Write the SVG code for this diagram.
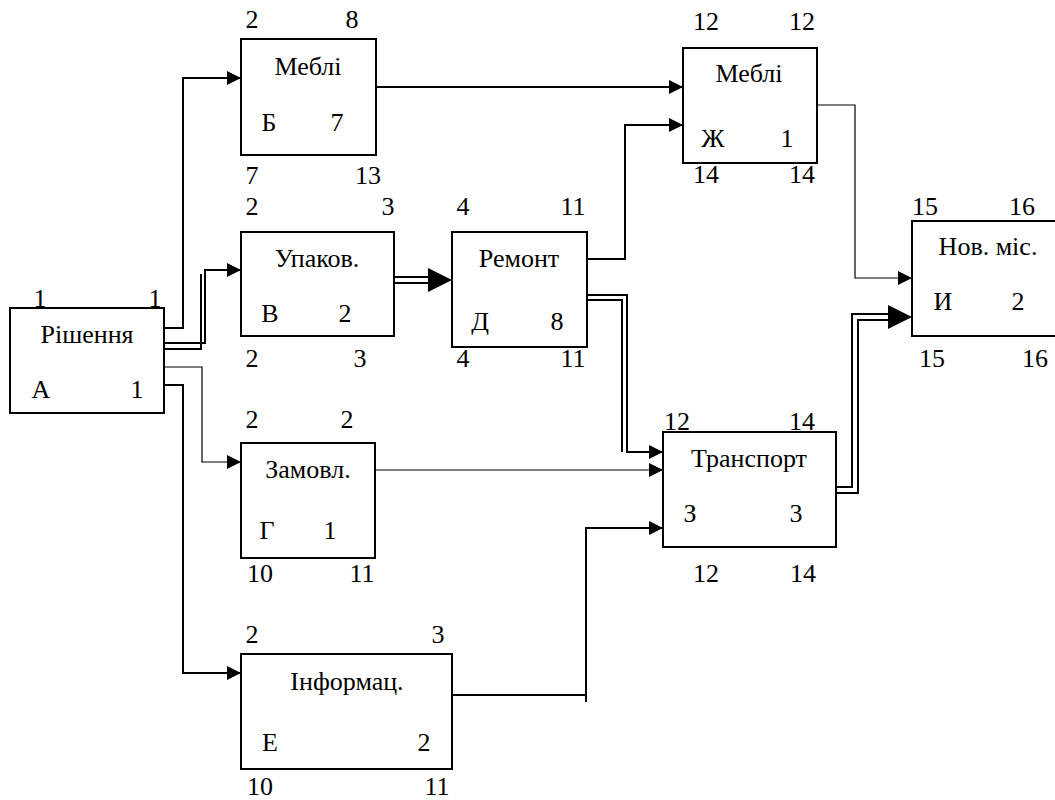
<svg xmlns="http://www.w3.org/2000/svg" xmlns:xlink="http://www.w3.org/1999/xlink" width="1055" height="800" viewBox="0 0 1055 800">
  <style>
    .box { fill: #ffffff; stroke: #000000; stroke-width: 2; }
    .t { font-family: "Liberation Serif", "Times New Roman", Tinos, "Nimbus Roman", FreeSerif, "DejaVu Serif", serif; font-size: 26px; fill: #000000; text-anchor: middle; }
    .ln { fill: none; stroke: #000000; stroke-width: 2; }
    .thin { fill: none; stroke: #000000; stroke-width: 1.2; }
  </style>
  <defs>
    <marker id="arr" viewBox="0 0 14 14" refX="14" refY="7" markerWidth="14" markerHeight="14" markerUnits="userSpaceOnUse" orient="auto">
      <path d="M0,0 L14,7 L0,14 Z" fill="#000000"/>
    </marker>
    <path id="bigArrow" d="M0,0 L-24,-12 L-24,12 Z" fill="#000000"/>
  </defs>

  <rect width="1055" height="800" fill="#ffffff"/>

  <!-- connectors -->
  <g id="connectors">
    <!-- А -> Б -->
    <path class="ln" d="M164,328 H183 V78 H241" marker-end="url(#arr)"/>
    <!-- А -> В (double) -->
    <path class="ln" d="M164,343 H205 V270 H241" marker-end="url(#arr)"/>
    <path class="ln" d="M164,349 H201 V274"/>
    <!-- А -> Г -->
    <path class="thin" d="M164,367 H202 V462 H241" marker-end="url(#arr)"/>
    <!-- А -> Е -->
    <path class="ln" d="M164,385 H183 V673 H241" marker-end="url(#arr)"/>
    <!-- Б -> Ж -->
    <path class="ln" d="M376,87 H683" marker-end="url(#arr)"/>
    <!-- Д -> Ж -->
    <path class="ln" d="M587,259 H625 V125 H683" marker-end="url(#arr)"/>
    <!-- В -> Д (double) -->
    <path class="ln" d="M394,277 H430"/>
    <path class="ln" d="M394,283 H430"/>
    <use xlink:href="#bigArrow" x="452" y="280"/>
    <!-- Д -> З (double) -->
    <path class="ln" d="M587,295 H627 V452 H663" marker-end="url(#arr)"/>
    <path class="ln" d="M587,300 H622 V452"/>
    <!-- Г -> З -->
    <path class="thin" d="M375,470 H663" marker-end="url(#arr)"/>
    <!-- Е -> З -->
    <path class="ln" d="M452,695 H586"/>
    <path class="ln" d="M586,702 V528 H663" marker-end="url(#arr)"/>
    <!-- Ж -> И -->
    <path class="thin" d="M817,105 H855 V278 H912" marker-end="url(#arr)"/>
    <!-- З -> И (double) -->
    <path class="ln" d="M836,487 H852 V314 H890"/>
    <path class="ln" d="M836,493 H858 V320 H890"/>
    <use xlink:href="#bigArrow" x="912" y="317"/>
  </g>

  <!-- А: Рішення -->
  <g id="node-a">
    <rect class="box" x="10" y="308" width="154" height="105"/>
    <text class="t" x="40" y="307">1</text>
    <text class="t" x="155" y="307">1</text>
    <text class="t" x="87" y="343">Рішення</text>
    <text class="t" x="41" y="398">А</text>
    <text class="t" x="137" y="398">1</text>
  </g>

  <!-- Б: Меблі -->
  <g id="node-b">
    <rect class="box" x="241" y="39" width="135" height="116"/>
    <text class="t" x="252" y="28">2</text>
    <text class="t" x="352" y="28">8</text>
    <text class="t" x="308" y="75">Меблі</text>
    <text class="t" x="269" y="131">Б</text>
    <text class="t" x="337" y="131">7</text>
    <text class="t" x="252" y="184">7</text>
    <text class="t" x="368" y="184">13</text>
  </g>

  <!-- В: Упаков. -->
  <g id="node-v">
    <rect class="box" x="241" y="232" width="153" height="104"/>
    <text class="t" x="252" y="215">2</text>
    <text class="t" x="388" y="215">3</text>
    <text class="t" x="317" y="267">Упаков.</text>
    <text class="t" x="270" y="322">В</text>
    <text class="t" x="345" y="322">2</text>
    <text class="t" x="252" y="367">2</text>
    <text class="t" x="360" y="367">3</text>
  </g>

  <!-- Г: Замовл. -->
  <g id="node-g">
    <rect class="box" x="241" y="443" width="134" height="115"/>
    <text class="t" x="252" y="428">2</text>
    <text class="t" x="347" y="428">2</text>
    <text class="t" x="308" y="478">Замовл.</text>
    <text class="t" x="267" y="539">Г</text>
    <text class="t" x="330" y="539">1</text>
    <text class="t" x="260" y="582">10</text>
    <text class="t" x="362" y="582">11</text>
  </g>

  <!-- Д: Ремонт -->
  <g id="node-d">
    <rect class="box" x="452" y="232" width="135" height="115"/>
    <text class="t" x="463" y="215">4</text>
    <text class="t" x="573" y="215">11</text>
    <text class="t" x="519" y="267">Ремонт</text>
    <text class="t" x="480" y="330">Д</text>
    <text class="t" x="557" y="330">8</text>
    <text class="t" x="463" y="367">4</text>
    <text class="t" x="573" y="367">11</text>
  </g>

  <!-- Е: Інформац. -->
  <g id="node-e">
    <rect class="box" x="241" y="654" width="211" height="115"/>
    <text class="t" x="252" y="643">2</text>
    <text class="t" x="438" y="643">3</text>
    <text class="t" x="347" y="690">Інформац.</text>
    <text class="t" x="270" y="751">Е</text>
    <text class="t" x="424" y="751">2</text>
    <text class="t" x="260" y="795">10</text>
    <text class="t" x="437" y="795">11</text>
  </g>

  <!-- Ж: Меблі -->
  <g id="node-zh">
    <rect class="box" x="683" y="48" width="134" height="115"/>
    <text class="t" x="706" y="30">12</text>
    <text class="t" x="802" y="30">12</text>
    <text class="t" x="749" y="82">Меблі</text>
    <text class="t" x="713" y="147">Ж</text>
    <text class="t" x="787" y="147">1</text>
    <text class="t" x="706" y="183">14</text>
    <text class="t" x="802" y="183">14</text>
  </g>

  <!-- З: Транспорт -->
  <g id="node-z">
    <rect class="box" x="663" y="432" width="173" height="115"/>
    <text class="t" x="677" y="430">12</text>
    <text class="t" x="802" y="430">14</text>
    <text class="t" x="749" y="467">Транспорт</text>
    <text class="t" x="690" y="522">З</text>
    <text class="t" x="796" y="522">3</text>
    <text class="t" x="706" y="582">12</text>
    <text class="t" x="803" y="582">14</text>
  </g>

  <!-- И: Нов. міс. -->
  <g id="node-i">
    <rect class="box" x="912" y="221" width="150" height="115"/>
    <text class="t" x="925" y="215">15</text>
    <text class="t" x="1022" y="215">16</text>
    <text class="t" x="988" y="255">Нов. міс.</text>
    <text class="t" x="943" y="310">И</text>
    <text class="t" x="1018" y="310">2</text>
    <text class="t" x="932" y="367">15</text>
    <text class="t" x="1035" y="367">16</text>
  </g>
</svg>
